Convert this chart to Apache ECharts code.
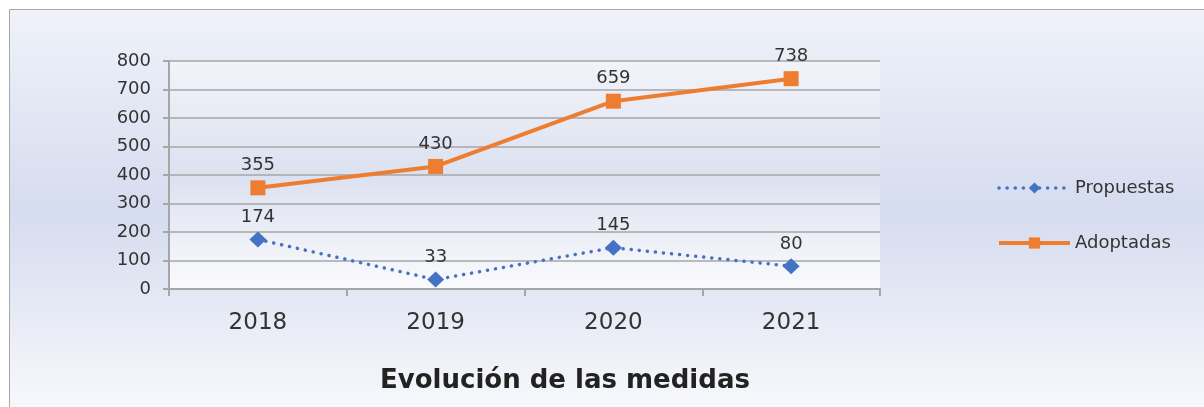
<!DOCTYPE html>
<html>
<head>
<meta charset="utf-8">
<script src="https://cdn.jsdelivr.net/npm/echarts@6/dist/echarts.min.js"></script>
<style>
html,body{margin:0;padding:0;background:#fff;}
#chart{width:1204px;height:407px;}
</style>
</head>
<body>
<div id="chart"></div>
<script>
const categories = ['2018', '2019', '2020', '2021'];
const propuestas = [174, 33, 145, 80];
const adoptadas = [355, 430, 659, 738];
const yTicks = [0, 100, 200, 300, 400, 500, 600, 700, 800];

const FONT = '"DejaVu Sans", Verdana, sans-serif';
const chart = echarts.init(document.getElementById('chart'));

function vgrad(stops) {
  return new echarts.graphic.LinearGradient(0, 0, 0, 1, stops);
}

chart.setOption({
  animation: false,
  textStyle: { fontFamily: FONT },
  graphic: [{
    type: 'rect',
    z: -10,
    silent: true,
    shape: { x: 9.5, y: 9.5, width: 1200, height: 405 },
    style: {
      fill: vgrad([
        { offset: 0, color: '#eff2f9' },
        { offset: 0.5, color: '#d6dcef' },
        { offset: 1, color: '#f8f9fc' }
      ]),
      stroke: '#a8a8a8',
      lineWidth: 1
    }
  }],
  title: {
    text: 'Evolución de las medidas',
    left: 380,
    top: 368,
    padding: 0,
    textStyle: { fontFamily: FONT, fontSize: 26, fontWeight: 'bold', color: '#222' }
  },
  legend: {
    orient: 'vertical',
    left: 997,
    top: 179,
    padding: 0,
    itemGap: 37,
    itemWidth: 71,
    itemHeight: 14,
    textStyle: { fontFamily: FONT, fontSize: 18, color: '#333' },
    data: [
      { name: 'Propuestas', lineStyle: { width: 3.5, type: [0.1, 8], cap: 'round' } },
      { name: 'Adoptadas', lineStyle: { width: 4 } }
    ]
  },
  grid: {
    left: 169, right: 324, top: 61, bottom: 118,
    show: true,
    borderWidth: 0,
    backgroundColor: vgrad([
      { offset: 0, color: '#f2f4fa' },
      { offset: 0.5, color: '#dce1f0' },
      { offset: 1, color: '#fbfbfd' }
    ])
  },
  xAxis: {
    type: 'category',
    data: categories,
    boundaryGap: true,
    axisLine: { lineStyle: { color: '#a6a6a6', width: 2 } },
    axisTick: { show: true, length: 7, lineStyle: { color: '#a6a6a6', width: 2 } },
    axisLabel: { fontFamily: FONT, fontSize: 23, color: '#333', margin: 23 },
    splitLine: { show: false }
  },
  yAxis: {
    type: 'value',
    min: 0, max: 800, interval: 100,
    axisLine: { show: true, lineStyle: { color: '#a6a6a6', width: 2 } },
    axisTick: { show: true, length: 6, lineStyle: { color: '#a6a6a6', width: 2 } },
    axisLabel: {
      fontFamily: FONT, fontSize: 18, color: '#333', margin: 18,
      formatter: v => yTicks.includes(v) ? String(v) : ''
    },
    splitLine: { show: true, lineStyle: { color: '#a6a6a6', width: 1.5 } }
  },
  series: [
    {
      name: 'Propuestas',
      type: 'line',
      data: propuestas,
      symbol: 'diamond',
      symbolSize: [17, 16],
      itemStyle: { color: '#4472c4' },
      lineStyle: { color: '#4472c4', width: 3.5, type: [0.1, 8], cap: 'round' },
      label: { show: true, position: 'top', distance: 5, fontFamily: FONT, fontSize: 18, color: '#333' },
      z: 3
    },
    {
      name: 'Adoptadas',
      type: 'line',
      data: adoptadas,
      symbol: 'rect',
      symbolSize: 15,
      itemStyle: { color: '#ed7d31' },
      lineStyle: { color: '#ed7d31', width: 4 },
      label: { show: true, position: 'top', distance: 6, fontFamily: FONT, fontSize: 18, color: '#333' },
      z: 4
    }
  ]
});
</script>
</body>
</html>
